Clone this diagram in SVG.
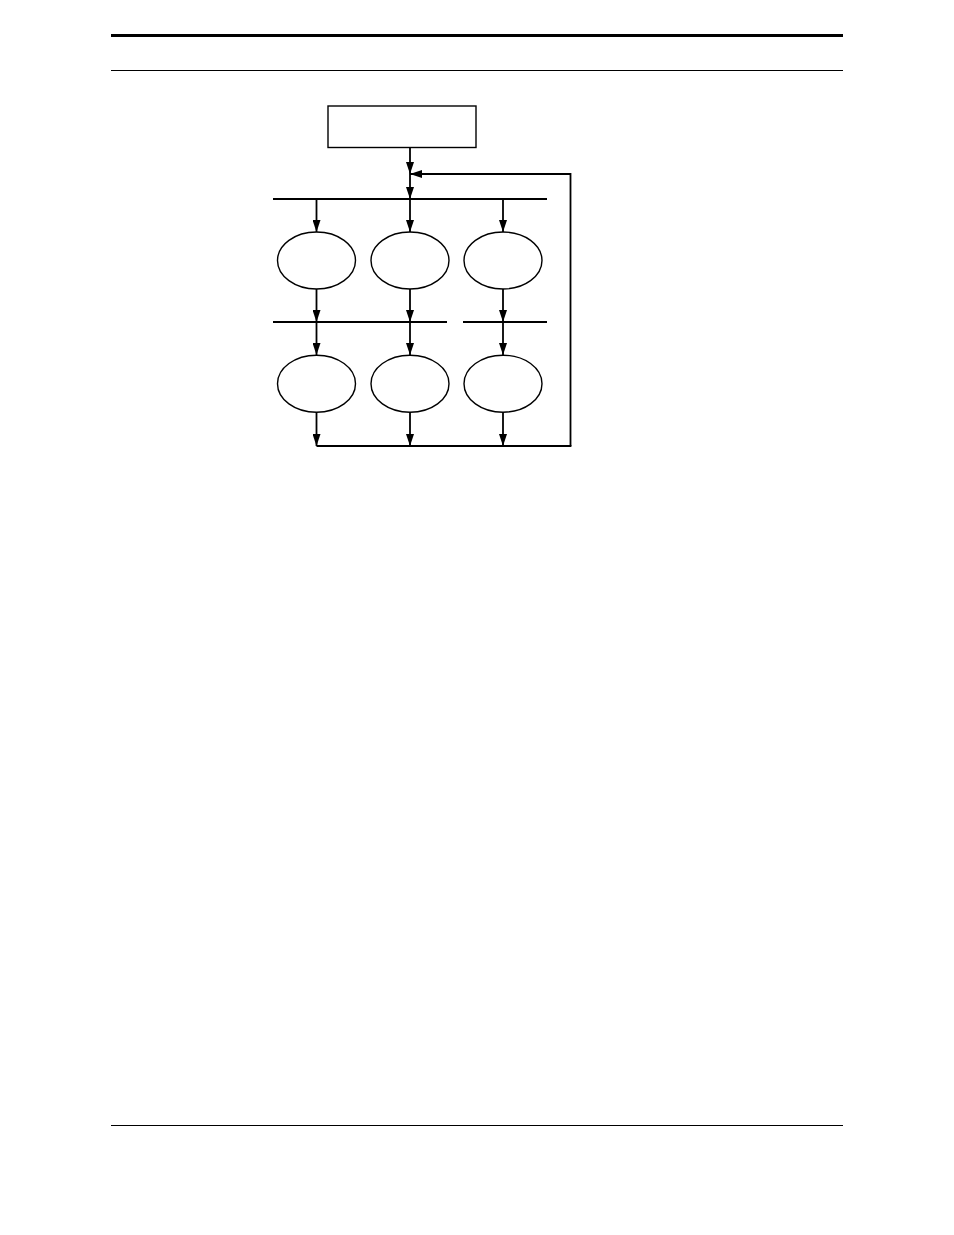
<svg xmlns="http://www.w3.org/2000/svg" width="954" height="1235" viewBox="0 0 954 1235">
<style>
.ln{stroke:#000;stroke-width:1.8;fill:none}
.nd{stroke:#000;stroke-width:1.4;fill:#fff}
.ar{stroke:#000;stroke-width:1.8;fill:none;marker-end:url(#ah)}
</style>
<defs>
<marker id="ah" markerUnits="userSpaceOnUse" markerWidth="13" markerHeight="8" refX="12" refY="4" orient="auto" viewBox="0 0 13 8">
<path d="M0,0 L12,4 L0,8 Z" fill="#000"/>
</marker>
</defs>
<g id="page">
<line x1="111" y1="35.5" x2="843" y2="35.5" stroke="#000" stroke-width="2.8"/>
<line x1="111" y1="70.5" x2="843" y2="70.5" stroke="#000" stroke-width="1.2"/>
<line x1="111" y1="1125.5" x2="843" y2="1125.5" stroke="#000" stroke-width="1.2"/>
</g>
<g id="connectors">
<line class="ar" x1="410" y1="148" x2="410" y2="174"/>
<polyline class="ar" points="570.5,446 570.5,174 410,174"/>
<line class="ar" x1="410" y1="174" x2="410" y2="199"/>
<line class="ln" x1="273" y1="199" x2="547" y2="199"/>
<line class="ar" x1="316.5" y1="199" x2="316.5" y2="232"/>
<line class="ar" x1="410" y1="199" x2="410" y2="232"/>
<line class="ar" x1="503" y1="199" x2="503" y2="232"/>
<line class="ar" x1="316.5" y1="289" x2="316.5" y2="322"/>
<line class="ar" x1="410" y1="289" x2="410" y2="322"/>
<line class="ar" x1="503" y1="289" x2="503" y2="322"/>
<line class="ln" x1="273" y1="322" x2="447" y2="322"/>
<line class="ln" x1="463" y1="322" x2="547" y2="322"/>
<line class="ar" x1="316.5" y1="322" x2="316.5" y2="355"/>
<line class="ar" x1="410" y1="322" x2="410" y2="355"/>
<line class="ar" x1="503" y1="322" x2="503" y2="355"/>
<line class="ar" x1="316.5" y1="412" x2="316.5" y2="446"/>
<line class="ar" x1="410" y1="412" x2="410" y2="446"/>
<line class="ar" x1="503" y1="412" x2="503" y2="446"/>
<line class="ln" x1="316.5" y1="446" x2="571.4" y2="446"/>
</g>
<g id="box"><rect class="nd" x="328" y="106" width="148" height="41.5"/></g>
<g id="e11"><ellipse class="nd" cx="316.5" cy="260.5" rx="39" ry="28.5"/></g>
<g id="e12"><ellipse class="nd" cx="410" cy="260.5" rx="39" ry="28.5"/></g>
<g id="e13"><ellipse class="nd" cx="503" cy="260.5" rx="39" ry="28.5"/></g>
<g id="e21"><ellipse class="nd" cx="316.5" cy="383.7" rx="39" ry="28.5"/></g>
<g id="e22"><ellipse class="nd" cx="410" cy="383.7" rx="39" ry="28.5"/></g>
<g id="e23"><ellipse class="nd" cx="503" cy="383.7" rx="39" ry="28.5"/></g>
</svg>
